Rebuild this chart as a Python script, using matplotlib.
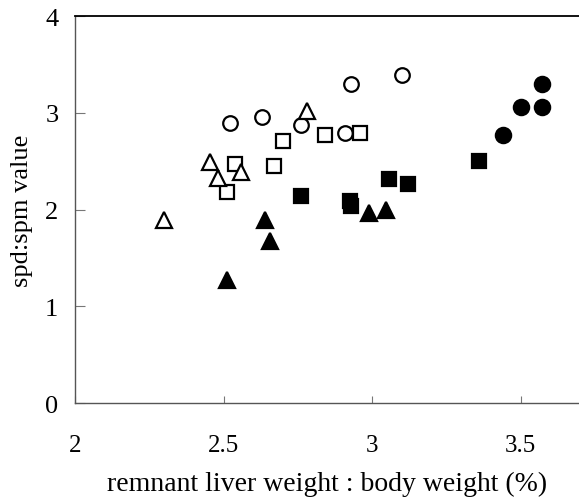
import matplotlib.pyplot as plt

plt.rcParams['font.family'] = ['Liberation Serif', 'DejaVu Serif']

# open circles
oc_x = [2.52, 2.63, 2.76, 2.91, 2.93, 3.10]
oc_y = [2.89, 2.96, 2.87, 2.79, 3.30, 3.39]
# open squares
os_x = [2.51, 2.54, 2.67, 2.70, 2.84, 2.96]
os_y = [2.18, 2.47, 2.45, 2.71, 2.77, 2.79]
# open triangles
ot_x = [2.30, 2.455, 2.48, 2.56, 2.78]
ot_y = [1.89, 2.49, 2.33, 2.39, 3.02]
# filled triangles
ft_x = [2.51, 2.64, 2.655, 2.99, 3.045]
ft_y = [1.27, 1.89, 1.67, 1.96, 1.99]
# filled squares
fs_x = [2.76, 2.925, 2.93, 3.055, 3.12, 3.36]
fs_y = [2.14, 2.09, 2.04, 2.32, 2.26, 2.50]
# filled circles
fc_x = [3.44, 3.50, 3.57, 3.57]
fc_y = [2.77, 3.06, 3.06, 3.30]

xticks = [2, 2.5, 3, 3.5]
xtick_labels = ['2', '2.5', '3', '3.5']
yticks = [0, 1, 2, 3, 4]

fig = plt.figure(figsize=(5.79, 5.02), dpi=100)
ax = fig.add_axes([0.1295, 0.1952, 0.8705, 0.7709])

ms = 10.5
mew = 1.6
ax.plot(oc_x, oc_y, 'o', ms=ms, mfc='white', mec='black', mew=mew, ls='none')
ax.plot(os_x, os_y, 's', ms=ms - 0.5, mfc='white', mec='black', mew=mew, ls='none')
ax.plot(ot_x, ot_y, '^', ms=ms + 0.5, mfc='white', mec='black', mew=mew, ls='none')
ax.plot(ft_x, ft_y, '^', ms=ms + 0.5, mfc='black', mec='black', mew=mew, ls='none')
ax.plot(fs_x, fs_y, 's', ms=ms - 0.5, mfc='black', mec='black', mew=mew, ls='none')
ax.plot(fc_x, fc_y, 'o', ms=ms + 0.5, mfc='black', mec='black', mew=mew, ls='none')

ax.set_xlim(2, 3.696)
ax.set_ylim(0, 4)
ax.set_xticks(xticks)
ax.set_xticklabels(xtick_labels)
ax.set_yticks(yticks)

ax.spines['right'].set_visible(False)
ax.spines['top'].set_color('black')
ax.spines['top'].set_linewidth(1.3)
for s in ['left', 'bottom']:
    ax.spines[s].set_color('#555555')
    ax.spines[s].set_linewidth(1.0)

ax.tick_params(axis='y', direction='in', length=7, color='#777777', labelsize=19, pad=12)
ax.tick_params(axis='x', direction='in', length=5, color='#777777', labelsize=18, pad=22)

ax.set_xlabel('remnant liver weight : body weight (%)', fontsize=20, labelpad=11)
ax.set_ylabel('spd:spm value', fontsize=19, labelpad=9)

fig.savefig('out.png', dpi=100)
